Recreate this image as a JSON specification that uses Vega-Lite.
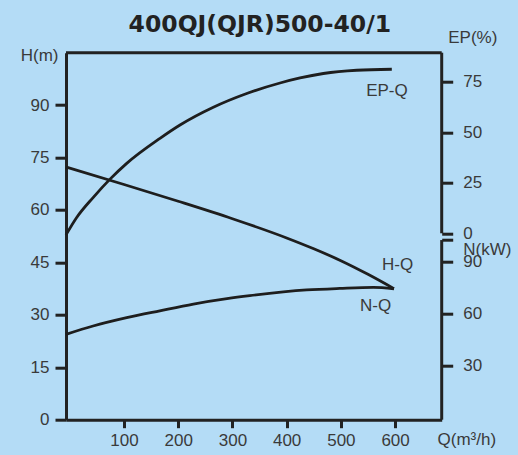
{
  "$schema": "https://vega.github.io/schema/vega-lite/v6.json",
  "autosize": {"type": "none"},
  "padding": {"left": 66, "top": 52.7, "right": 76.3, "bottom": 35.3},
  "width": 375.7,
  "height": 367,
  "background": "#b4dcf6",
  "title": {
    "text": "400QJ(QJR)500-40/1",
    "font": "DejaVu Sans",
    "fontWeight": "bold",
    "fontSize": 23.5,
    "color": "#222222",
    "anchor": "middle",
    "frame": "group",
    "dx": 6,
    "offset": -8
  },
  "config": {
    "view": {"stroke": null},
    "font": "Liberation Sans",
    "axis": {
      "grid": false,
      "labelFont": "Liberation Sans",
      "labelFontSize": 17,
      "labelColor": "#3a3a3a",
      "titleFont": "Liberation Sans",
      "titleFontSize": 17,
      "titleFontWeight": "normal",
      "titleColor": "#3a3a3a",
      "domainColor": "#222222",
      "domainWidth": 3,
      "tickColor": "#222222",
      "tickWidth": 3
    }
  },
  "datasets": {
    "hq": [
      {"Q": -7, "H": 72.3}, {"Q": 100, "H": 67.3}, {"Q": 200, "H": 62.5},
      {"Q": 300, "H": 57.5}, {"Q": 400, "H": 52.0}, {"Q": 450, "H": 48.9},
      {"Q": 500, "H": 45.5}, {"Q": 550, "H": 41.6}, {"Q": 598, "H": 37.5}
    ],
    "ep": [
      {"Q": -7, "EP": -0.8}, {"Q": 12.7, "EP": 7.8}, {"Q": 43.4, "EP": 17.8},
      {"Q": 74.2, "EP": 26.8}, {"Q": 105, "EP": 34.6}, {"Q": 166.4, "EP": 47.0},
      {"Q": 203.3, "EP": 53.6}, {"Q": 264.8, "EP": 62.4}, {"Q": 326.4, "EP": 69.2},
      {"Q": 387.8, "EP": 74.4}, {"Q": 424.7, "EP": 76.9}, {"Q": 467.7, "EP": 79.1},
      {"Q": 529.3, "EP": 80.7}, {"Q": 594, "EP": 81.2}
    ],
    "nq": [
      {"Q": -7, "N": 48.1}, {"Q": 43, "N": 52.9}, {"Q": 105, "N": 57.7},
      {"Q": 166, "N": 61.7}, {"Q": 228, "N": 65.6}, {"Q": 290, "N": 68.7},
      {"Q": 332, "N": 70.4}, {"Q": 437, "N": 73.7}, {"Q": 498, "N": 74.6},
      {"Q": 560, "N": 75.2}, {"Q": 598, "N": 74.4}
    ],
    "labels": [
      {"Q": 604.6, "H": 44.3, "label": "H-Q"},
      {"Q": 564, "H": 32.4, "label": "N-Q"},
      {"Q": 585, "H": 93.9, "label": "EP-Q"}
    ],
    "frameTop": [{"Q": -7, "Q2": 686, "H": 105}],
    "frameEP": [{"Q": 686, "EP": 0, "EP2": 89.4}],
    "frameN": [{"Q": 686, "N": -1.15, "N2": 102.5}]
  },
  "encoding": {
    "x": {
      "field": "Q",
      "type": "quantitative",
      "scale": {"domain": [-7, 686], "nice": false, "zero": false},
      "axis": {
        "values": [100, 200, 300, 400, 500, 600],
        "tickSize": 8,
        "labelPadding": 5,
        "title": "Q(m³/h)",
        "titleAnchor": "start",
        "titleAlign": "left",
        "titleBaseline": "middle",
        "titleX": 371,
        "titleY": 20
      }
    }
  },
  "layer": [
    {
      "layer": [
        {
          "data": {"name": "hq"},
          "mark": {"type": "line", "interpolate": "monotone", "color": "#1e1e1e", "strokeWidth": 2.8},
          "encoding": {
            "y": {
              "field": "H",
              "type": "quantitative",
              "scale": {"domain": [0, 105], "nice": false},
              "axis": {
                "orient": "left",
                "values": [0, 15, 30, 45, 60, 75, 90],
                "tickSize": 11,
                "labelPadding": 6,
                "title": "H(m)",
                "titleAngle": 0,
                "titleAlign": "right",
                "titleBaseline": "middle",
                "titleX": -8,
                "titleY": 3
              }
            }
          }
        },
        {
          "data": {"name": "frameTop"},
          "mark": {"type": "rule", "color": "#222222", "strokeWidth": 3},
          "encoding": {
            "x2": {"field": "Q2"},
            "y": {"field": "H", "type": "quantitative"}
          }
        },
        {
          "data": {"name": "labels"},
          "mark": {"type": "text", "font": "Liberation Sans", "fontSize": 17, "color": "#3a3a3a"},
          "encoding": {
            "y": {"field": "H", "type": "quantitative"},
            "text": {"field": "label"}
          }
        }
      ]
    },
    {
      "layer": [
        {
          "data": {"name": "ep"},
          "mark": {"type": "line", "interpolate": "monotone", "color": "#1e1e1e", "strokeWidth": 2.8},
          "encoding": {
            "y": {
              "field": "EP",
              "type": "quantitative",
              "scale": {"domain": [-92.3, 89.4], "nice": false, "zero": false},
              "axis": {
                "orient": "right",
                "values": [0, 25, 50, 75],
                "domain": false,
                "tickSize": 11,
                "labelPadding": 10,
                "title": "EP(%)",
                "titleAngle": 0,
                "titleAlign": "left",
                "titleBaseline": "middle",
                "titleX": 6,
                "titleY": -15
              }
            }
          }
        },
        {
          "data": {"name": "frameEP"},
          "mark": {"type": "rule", "color": "#222222", "strokeWidth": 3},
          "encoding": {
            "y": {"field": "EP", "type": "quantitative"},
            "y2": {"field": "EP2"}
          }
        }
      ]
    },
    {
      "layer": [
        {
          "data": {"name": "nq"},
          "mark": {"type": "line", "interpolate": "monotone", "color": "#1e1e1e", "strokeWidth": 2.8},
          "encoding": {
            "y": {
              "field": "N",
              "type": "quantitative",
              "scale": {"domain": [-1.15, 210.6], "nice": false, "zero": false},
              "axis": {
                "orient": "right",
                "values": [30, 60, 90, 102.5],
                "labelExpr": "datum.value > 100 ? '' : datum.label",
                "domain": false,
                "tickSize": 11,
                "labelPadding": 10,
                "title": "N(kW)",
                "titleAngle": 0,
                "titleAlign": "left",
                "titleBaseline": "middle",
                "titleX": 21,
                "titleY": 197
              }
            }
          }
        },
        {
          "data": {"name": "frameN"},
          "mark": {"type": "rule", "color": "#222222", "strokeWidth": 3},
          "encoding": {
            "y": {"field": "N", "type": "quantitative"},
            "y2": {"field": "N2"}
          }
        }
      ]
    }
  ],
  "resolve": {"scale": {"y": "independent"}, "axis": {"y": "independent"}}
}
